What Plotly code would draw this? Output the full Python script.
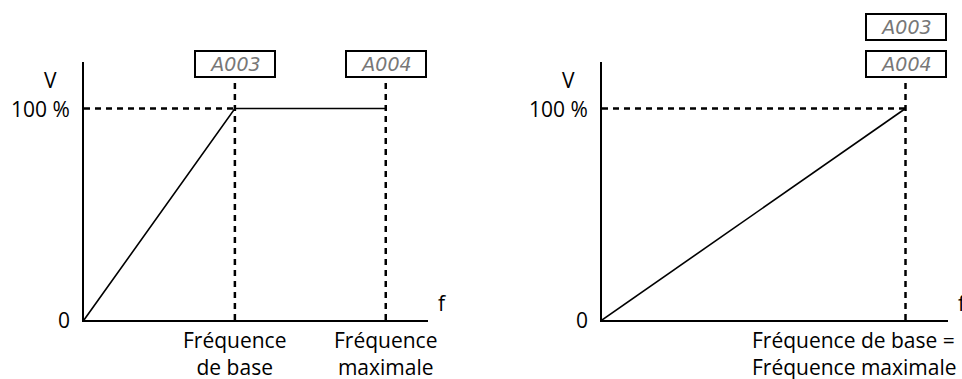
import plotly.graph_objects as go

# --- data (relative units: frequency in % of max, voltage in %) ---
left_f = [0, 50, 100]          # 0 -> base freq -> max freq
left_v = [0, 100, 100]
left_base = 50
left_max = 100

right_f = [0, 100]             # base freq = max freq
right_v = [0, 100]
right_base = 100

v_levels = [0, 100]
v_labels = ["0", "100 %"]
box_labels = ["A003", "A004"]

FONT = "Open Sans"
W, H = 962, 379

fig = go.Figure()

xr = [0, 114]
yr = [0, 122]
ytop_dash = 114.6

def px_y(p):
    return (H - p) / H

ydom = [px_y(320), px_y(62)]

axis_common = dict(showline=True, linecolor="black", linewidth=2, showgrid=False,
                   zeroline=False, showticklabels=False, ticks="", fixedrange=True)

fig.update_layout(
    width=W, height=H, margin=dict(l=0, r=0, t=0, b=0),
    paper_bgcolor="white", plot_bgcolor="white", showlegend=False,
    xaxis=dict(domain=[84 / W, 428 / W], range=xr, **axis_common),
    yaxis=dict(domain=ydom, range=yr, **axis_common),
    xaxis2=dict(domain=[602 / W, 948 / W], range=xr, anchor="y2", **axis_common),
    yaxis2=dict(domain=ydom, range=yr, anchor="x2", **axis_common),
)

dash_style = dict(color="black", width=2.5, dash="6px,5px")

# Left chart
fig.add_trace(go.Scatter(x=[0, left_base], y=[100, 100], mode="lines", line=dash_style,
                         xaxis="x", yaxis="y", hoverinfo="skip"))
fig.add_trace(go.Scatter(x=[left_base, left_base], y=[0, ytop_dash], mode="lines", line=dash_style,
                         xaxis="x", yaxis="y", hoverinfo="skip"))
fig.add_trace(go.Scatter(x=[left_max, left_max], y=[0, ytop_dash], mode="lines", line=dash_style,
                         xaxis="x", yaxis="y", hoverinfo="skip"))
fig.add_trace(go.Scatter(x=left_f, y=left_v, mode="lines", line=dict(color="black", width=1.6),
                         xaxis="x", yaxis="y"))

# Right chart
fig.add_trace(go.Scatter(x=[0, right_base], y=[100, 100], mode="lines", line=dash_style,
                         xaxis="x2", yaxis="y2", hoverinfo="skip"))
fig.add_trace(go.Scatter(x=[right_base, right_base], y=[0, ytop_dash], mode="lines", line=dash_style,
                         xaxis="x2", yaxis="y2", hoverinfo="skip"))
fig.add_trace(go.Scatter(x=right_f, y=right_v, mode="lines", line=dict(color="black", width=1.6),
                         xaxis="x2", yaxis="y2"))

txt = dict(family=FONT, size=21, color="black")
box_font = dict(family="DejaVu Sans", size=19, color="#777777")

ann = []
for xa, ya in [("x", "y"), ("x2", "y2")]:
    ann.append(dict(x=0, y=113.5, xref=xa, yref=ya, text="V", showarrow=False,
                    font=txt, xshift=-34))
    for v, lab in zip(v_levels, v_labels):
        ann.append(dict(x=0, y=v, xref=xa, yref=ya, text=lab, showarrow=False,
                        font=txt, xanchor="right", xshift=-12))
    ann.append(dict(x=113, y=8, xref=xa, yref=ya, text="f", showarrow=False, font=txt,
                    xshift=18))

def box(x, y, xa, ya, label, yshift=0):
    return dict(x=x, y=y, xref=xa, yref=ya, text="<i>" + label + "</i>", showarrow=False,
                font=box_font, bordercolor="black", borderwidth=2, borderpad=0,
                width=78, height=24, bgcolor="white", yshift=yshift)

ann.append(box(left_base, 121, "x", "y", box_labels[0]))
ann.append(box(left_max, 121, "x", "y", box_labels[1]))
ann.append(box(right_base, 121, "x2", "y2", box_labels[0], yshift=37))
ann.append(box(right_base, 121, "x2", "y2", box_labels[1]))

ann.append(dict(x=left_base, y=0, xref="x", yref="y", text="Fréquence<br>de base",
                showarrow=False, font=txt, yanchor="top", yshift=-4))
ann.append(dict(x=left_max, y=0, xref="x", yref="y", text="Fréquence<br>maximale",
                showarrow=False, font=txt, yanchor="top", yshift=-4))
ann.append(dict(x=right_base, y=0, xref="x2", yref="y2",
                text="Fréquence de base =<br>Fréquence maximale", align="left",
                showarrow=False, font=txt, yanchor="top", yshift=-4, xshift=-51))

fig.update_layout(annotations=ann)

fig.write_html("out.html", post_script="document.body.style.margin='0px';",
               config={"displayModeBar": False})
